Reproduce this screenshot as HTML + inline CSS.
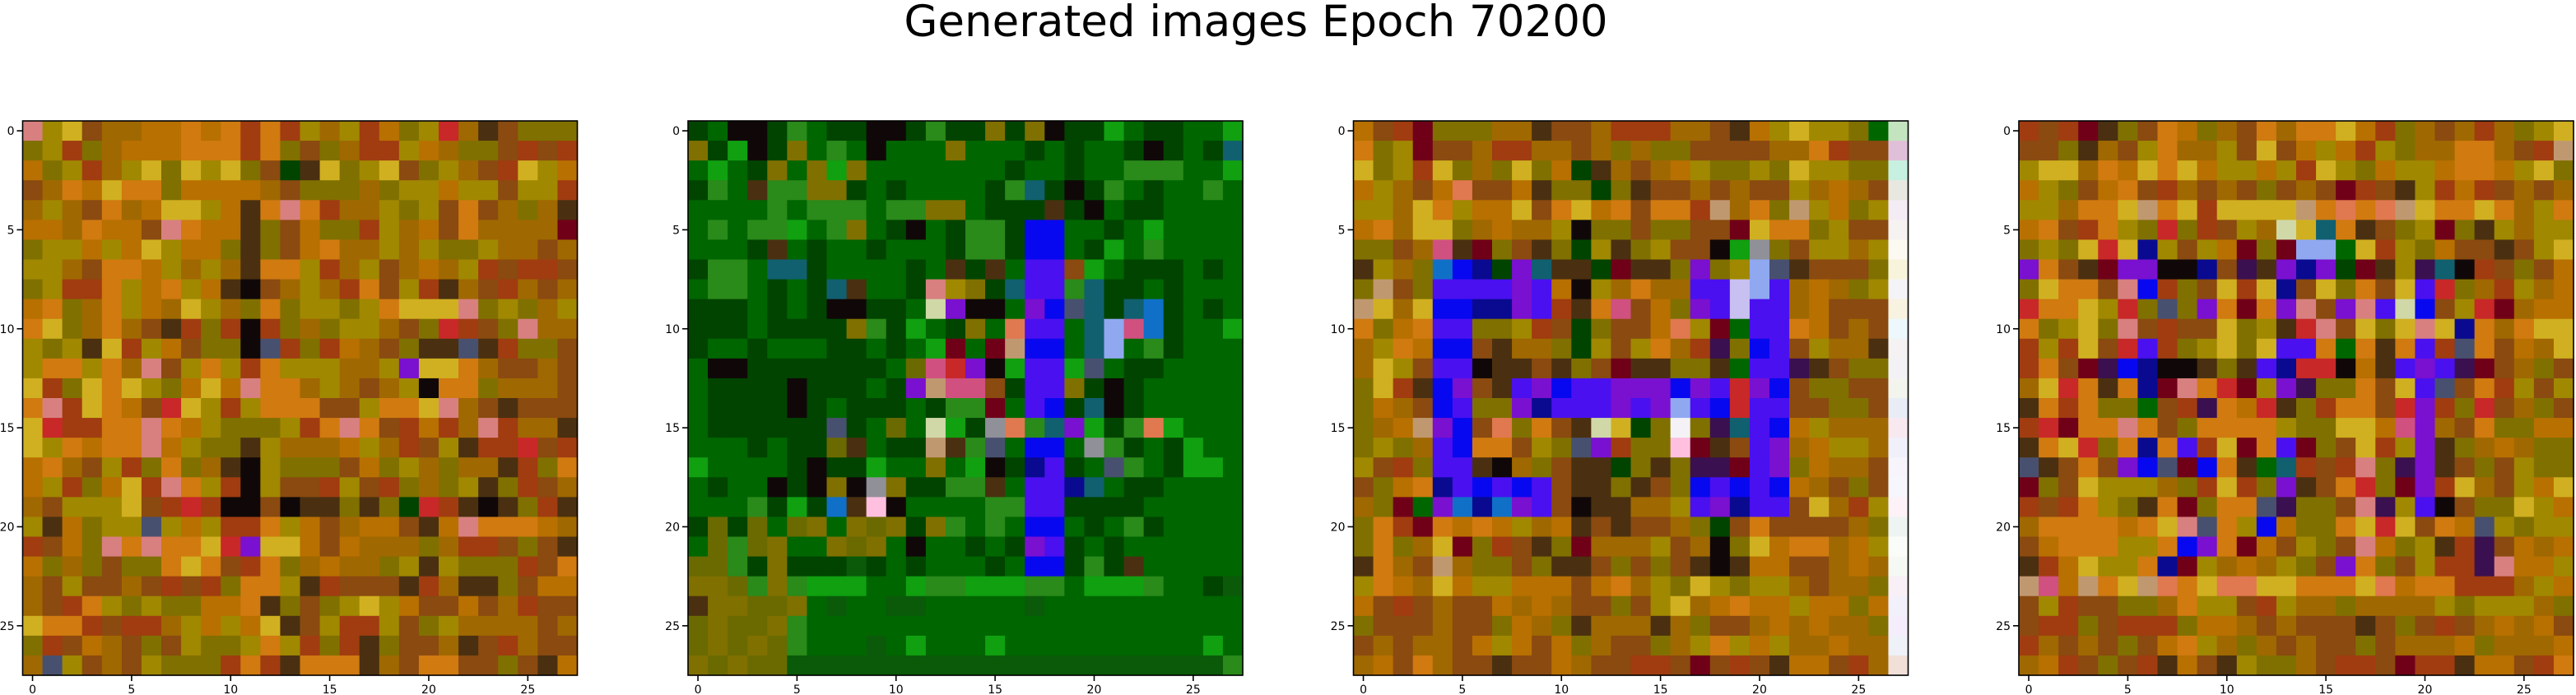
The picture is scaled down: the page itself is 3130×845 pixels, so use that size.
<!DOCTYPE html>
<html><head><meta charset="utf-8"><style>
html,body{margin:0;padding:0;background:#fff;}
svg{display:block;font-family:"DejaVu Sans","Liberation Sans",sans-serif;}
</style></head><body>
<svg id="fig" width="3130" height="845" viewBox="0 0 3130 845">
<text x="1526" y="44" font-size="53" text-anchor="middle" fill="#000">Generated images Epoch 70200</text>
</svg>
<script>
const palette = {
 a:'#a06800',o:'#b87000',O:'#d07a10',y:'#a08800',Y:'#d0b020',l:'#807000',n:'#8a4a10',r:'#a03c10',
 R:'#c82828',k:'#100808',K:'#4a3010',D:'#700018',p:'#d88080',P:'#d05080',x:'#e07850',q:'#c09870',
 b:'#0808f0',v:'#4a10f0',N:'#0a0a90',m:'#7a10d0',M:'#3a1050',s:'#485070',T:'#106070',c:'#90a8f0',
 W:'#c8c0f0',w:'#f4f2f6',e:'#d0d8a8',h:'#ffc0e0',i:'#909098',B:'#1070c8',
 g:'#006600',d:'#004400',L:'#2a8a1a',j:'#10a010',z:'#6a6a00',u:'#0a5a0a'
};
const panel1 = [
"pyYnaaooOoOrOryayrolyRaKnlll","lyrlaoooOOOrOlnlarryoallnrnr","olyrayYlYyYlndKYlyYnlyanrYyo","naOoYOOlooooanlllalyyoyynyyrl",
"ayanOaoYYyoKOpOraaylynOnalaK","ooaOoonpOooKlnollryaonOaaaaD","lyyoyoYyoolKlnoOaayayllyaana","yyanOOoyayaKOOyraynaoayrnrrn",
"lyrrOyoOyoKknayarOnyrKanrana","oOlaOyoaYyalOlyylyOYYYplylayO","OYlaOanKrlrkrlalyyanlRrnlpaaK","ylyKYryonllksrlroanlKKsKrlln",
"yOOyOapnyOyrOyyyaaymYYOannan","YrlYOYyloYopOOayanaykOOlaaanr","OprYOonRYyryOOOnnyOOYpanKnnn","YRrrOOpOoylllyrOpOnrorapraaKny",
"YyOoOOpoyllKyaaaoyarnyKrrRnr","oOanyrlOlaKkylllnolyalaaKrlO","oyrloYrpOyrkynnrynrlalyKlrna","anyyyYnrRrkknkKKlKldRrKkKlrK",
"yKolyysyoyrrOyonaoonKopOOOoa","rnolpOpOOYRmYYonoaaalarrnlnK","olalnllOYOnrOlaoaalyKylllrnO","anynnanrnrlOOyKrnnnKraKKlnoo",
"anrOylyllooOKlnlyYyonnonarnn","YOOrnrrayoyoYKnyrrynlyaaaana","lrnoanlnyllyOyrlrKlnnaKnran","asynanylllrOrKOOOKanOOnnlnKoy"];
const panel2 = [
"dgkkdLgddkkdLddldlkddjgddggj","ldjkdlgLgkggglgggdgdggdkdgdT","gjgdlgljlgggggggdggdggLLLggj","dLgKLLlldgdggggdLTdkdLgdggLg",
"ggggLgLLLgLLllgdddKdkgddgggg","gLgLLjgLlgdkgdLLdbbggdgjgggg","gggdKgdggdgggdLLdbbgdjgLgggg","dLLgTTdggggdgKdKgvvnjgdddgdg",
"gLLgdgdTKggdpyldTvvLTddgdggg","dddgdgdkkddgemkkgmbsTdTBdgdg","dddgddddlLdjgdlgxvvgTcPBdggj","dggdgggddgdgjDgDqbbgTcgLdggg",
"gkkdddddddgzPRmkjvvjsgddgggg","gddddkdddgdmqPPndvvldkdggggg","gddddkdgdddgdLLDgvbdTkdggggg","gddddddsdgzgejdixLTmjdLxjggg",
"gggdgddzKgddqKLsgbbgiLdgdjgg","jggggdkddjgglgjkdNvdgsLgdjjg","gdggkdklkilddLLKgvvNTgddgggg","gggLdjdBKhkggggLLvvddddggggg",
"dzdzgzlglzldlLgLgbbgdgLdgggg","gzLzlgglzlgkggdgdmvdgdgggggg","zzLdldddudgdgggdgbbdLdKggggg","llzLlLjjjggjLLjjjLLgjjjLggdu",
"Kllzzlgugguugggggugggggggggg","zlzzlLgggggggggggggggggggggg","zlzlzLgggugjgggjggggggggggjg","lzlzzuuuuuuuuuuuuuuuuuuuuuuL"];
const panel3 = [
"onrDlllaaKnnarrraanKoyYyylg","OlyDnnarraanalallnnnnaaOrnn","YlyrYlalYlodKanaoyllylYyyll","oyanoxnnoKlldlKnnanannyaoan",
"yyaYOyooYnOYoOnOOrqaOlqyoly","oOaYYlaoaaykllnllnnDYOOlynn","llnaPKDlnKldyKlynnkjilnyyay","KyalBbNdmTKKdDKKlmlycsKnnnl",
"lqnlvvvvmvokyaOaavvWcvaoaly","qYaYbbNNmvrKOPnolmvWvvaonnn","OloOvvllyrndlnnoxyDgvvOonan","ayOobbnKaaldynyOarMlbvnyaaK",
"aYynvvkKKnKlnDKKllKgvvMKnll","lYrKbmnKvmbvvmmmbmvRmbnllnn","loanbvllmNvvvmvmcvbRvvnnlln","laoqmbnxlOnKeYdlwlMTvboyaaa",
"lylavbOOnylsmrllhDKnvmaoyya","ynrlvvKkalnKKdlKlMMDvmloaan","nloONvbvbvnKKlKnlbvbvboanln","alDgmBNBmvnkKKaayvmNvvnYary",
"lOrDOoOoyaoKnKnnaldnOnnnnal","lOlaYDlrnKlDaaaynaklYoOOaoy","KOanqallnlKKnlnlnKkKoonnaoa","yOoaYoyyooonoOaylYylyyanaal",
"onrnannoaoannlnyYaoOooyoolo","lnnnannloalKaaaKalnnaoaoaal","nanaanoyonolannlayOyoyaaoaa","aonOannKnnoannrrnDnrnKoonra"];
const panel3Edge = ['#c4e4c0','#e0c0d8','#c8f0e0','#e8e8e0','#f4ecf4','#f6f2f2','#fcf8f2','#f8f4dc','#f4f4f8','#f8f2e0','#ecf8fc','#f4f2f2','#f2f2f6','#f4f4ee','#e8ecf4','#f8e8f0','#f0f0fa','#f8f4fc','#f6f6fc','#fcf2f8','#eef4f2','#fafcfa','#f6f8f4','#f8f0f6','#f2f0fa','#f4eefc','#eef2f8','#f0e0d8'];
const panel4 = [
"rnrDKlnOolanOaOOYorlanaralyY","nnlKanyOaaynYnoyorylaaOOanrq","yYYaOoYOYoyyoyrYyloyyoOOoyYl","oylnoOnrananlnanDrnKyrornanaY",
"yyaOOYqOYrYYYYqOxOxqYOOYOayO","oOnrOylRlrnyaeYTOKnlyDlKyayy","lylYRYNynyoDlDccgYrylonnKnyY","mOnKDmmkkNnMKmNmdDKyMTkrnlno",
"lYOOnpbrlnYrYNnYlOnYvRlaryao","ROOYyRlslmODOmpnmpvebnyRDaoo","OlyYlpnrnnYlyKRpnYlYpYNOaOYY","ryrYnRvrlyYlYvvOgOKOvrsOnoaY",
"rOnDMbNkkKlKvNRRkoKvmvMDnaln","aYROKONDpORDymMllOnYvsnOryny","KOrOllgnrMOoRKlrOOnRmrlRnaln","rRDOOpOnlOOOOyllYYoPmanOlloo",
"KOYRlONOvrYDOvDlnYrymKlaoall","sKnOnmbsDbOKgTrnrplMmKnlnyll","DlnYyyyalrYrlmKnORlDmrYanyoY","rnrOylKODlOOsMllnpMyvknllYyo",
"aOOOOoOYpsOybollOYRYnOosylyy","noOOOyyObmODonylnpolyKrMnoao","KroYyyONDyaoaylnmOlnyrrMpooy","qPoqOYqxOYxxYYOOOYxoOOrrrayo",
"nyrnnllaOyynryaalaaaaylyyyal","nrrlnrrrlooanannnKnlnrnaoaon","rananlnoOyalanannlnaaaolaaao","aornlnrKonKyllanrrnDrrKoonrO"];
const panelLefts = [27.5, 836, 1644.5, 2453];
const tickValues = [0,5,10,15,20,25];

const NS='http://www.w3.org/2000/svg';
const svg=document.getElementById('fig');
const TOP=147, SIZE=674, N=28, CELL=SIZE/N;
function mk(t,attrs){const e=document.createElementNS(NS,t);for(const k in attrs)e.setAttribute(k,attrs[k]);return e;}
const panels=[panel1,panel2,panel3,panel4];
panels.forEach((rows,pi)=>{
  const L=panelLefts[pi];
  const g=mk('g',{});
  
  
  svg.appendChild(g);
  for(let r=0;r<N;r++){
    const row=rows[r]||'';
    for(let c=0;c<N;c++){
      let col;
      if(pi===2 && c===N-1) col=panel3Edge[r];
      else { const ch=row[c]||row[row.length-1]||'a'; col=palette[ch]||'#a06800'; }
      const rc=mk('rect',{x:(L+c*CELL).toFixed(2),y:(TOP+r*CELL).toFixed(2),width:(CELL+0.6).toFixed(2),height:(CELL+0.6).toFixed(2),fill:col});
      
      
      g.appendChild(rc);
    }
  }
  const fr=mk('rect',{x:L,y:TOP,width:SIZE,height:SIZE,fill:'none',stroke:'#000','stroke-width':1.6});
  
  
  svg.appendChild(fr);
  tickValues.forEach(v=>{
    const pos=(v+0.5)*CELL;
    const xt=mk('line',{x1:L+pos,x2:L+pos,y1:TOP+SIZE,y2:TOP+SIZE+7,stroke:'#000','stroke-width':1.6});
    
    
    svg.appendChild(xt);
    const xl=mk('text',{x:L+pos,y:TOP+SIZE+22,'font-size':14,'text-anchor':'middle',fill:'#000'});
    xl.textContent=String(v);
    
    
    svg.appendChild(xl);
    const yt=mk('line',{x1:L-7,x2:L,y1:TOP+pos,y2:TOP+pos,stroke:'#000','stroke-width':1.6});
    
    
    svg.appendChild(yt);
    const yl=mk('text',{x:L-10,y:TOP+pos+5,'font-size':14,'text-anchor':'end',fill:'#000'});
    yl.textContent=String(v);
    
    
    svg.appendChild(yl);
  });
});
</script>
</body></html>
